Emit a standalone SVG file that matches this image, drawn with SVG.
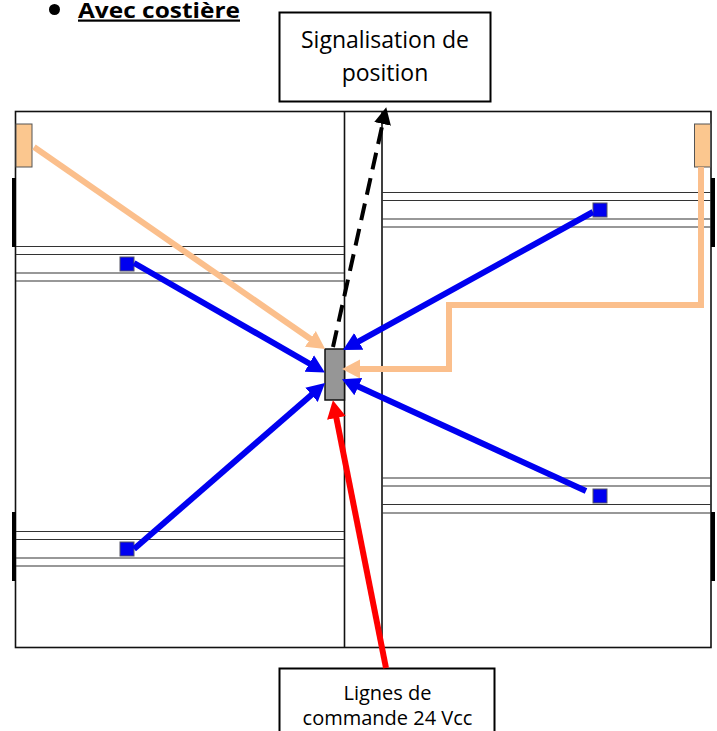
<svg xmlns="http://www.w3.org/2000/svg" width="717" height="731" viewBox="0 0 717 731">
<style>
.frame{fill:none;stroke:#111;stroke-width:1.6}
.rail{fill:none;stroke:#333;stroke-width:1.2}
.box{fill:#fff;stroke:#000;stroke-width:2}
.handle{fill:#000}
.sensor{fill:#fbc78f;stroke:#555;stroke-width:1}
.sq{fill:#0000f0;stroke:#556;stroke-width:1}
.lnk{fill:none;stroke-width:6}
.t{font-family:"Open Sans","Noto Sans",sans-serif;fill:#000;text-anchor:middle}
</style>
<defs>
<marker id="hb" markerUnits="userSpaceOnUse" markerWidth="22" markerHeight="24" refX="2" refY="11" orient="auto"><path d="M0,1.500 L18,11 L0,20.500Z" fill="#0000f0"/></marker>
<marker id="ho" markerUnits="userSpaceOnUse" markerWidth="22" markerHeight="24" refX="2" refY="11" orient="auto"><path d="M0,1.500 L18,11 L0,20.500Z" fill="#fbbf8c"/></marker>
<marker id="hr" markerUnits="userSpaceOnUse" markerWidth="22" markerHeight="24" refX="2" refY="11" orient="auto"><path d="M0,1.500 L18,11 L0,20.500Z" fill="#f00"/></marker>
<marker id="hk" markerUnits="userSpaceOnUse" markerWidth="22" markerHeight="24" refX="2" refY="11" orient="auto"><path d="M0,2.500 L17,11 L0,19.500Z" fill="#000"/></marker>
</defs>
<g id="title">
<circle cx="54.500" cy="9.500" r="5.500" fill="#000"/>
<text x="78" y="17.500" font-family="Open Sans,Noto Sans,sans-serif" font-size="22" font-weight="700" text-decoration="underline" textLength="162" lengthAdjust="spacingAndGlyphs">Avec costière</text>
</g>
<g id="doors">
<rect class="frame" x="15.500" y="111.500" width="695.500" height="536"/>
<path class="frame" d="M344.500 111.500V647.500M382 111.500V647.500"/>
<path class="rail" d="M16 246.500H344M16 254.500H344M16 273H344M16 281H344M16 531.500H344M16 539.500H344M16 558H344M16 566H344M382 192.500H711M382 200.500H711M382 219H711M382 227H711M382 478H711M382 486H711M382 504.500H711M382 513H711"/>
</g>
<g id="handles">
<rect class="handle" x="12" y="178" width="4" height="69"/>
<rect class="handle" x="12" y="512" width="4" height="69"/>
<rect class="handle" x="711" y="178" width="4" height="69"/>
<rect class="handle" x="711" y="512" width="4" height="69"/>
</g>
<g id="sensor-left"><rect class="sensor" x="16" y="124" width="16" height="43"/></g>
<g id="sensor-right"><rect class="sensor" x="694.500" y="124" width="16" height="43"/></g>
<g id="square-1"><rect class="sq" x="120" y="257" width="14" height="14"/></g>
<g id="square-2"><rect class="sq" x="120" y="542" width="14" height="14"/></g>
<g id="square-3"><rect class="sq" x="593" y="203" width="14" height="14"/></g>
<g id="square-4"><rect class="sq" x="593" y="489" width="14" height="14"/></g>
<g id="module"><rect x="325" y="349" width="19.500" height="51" fill="#969696" stroke="#111" stroke-width="1.500"/></g>
<g id="box-signal">
<rect class="box" x="279.500" y="12.500" width="211" height="89"/>
<text class="t" x="385" y="47.500" font-size="23">Signalisation de</text>
<text class="t" x="385" y="81" font-size="23">position</text>
</g>
<g id="box-command">
<rect class="box" x="279.500" y="668.500" width="215" height="70"/>
<text class="t" x="387.500" y="700" font-size="20">Lignes de</text>
<text class="t" x="387.500" y="724.500" font-size="20">commande 24 Vcc</text>
</g>
<g id="connectors">
<path class="lnk" stroke="#fbbf8c" d="M34 147L312 340" marker-end="url(#ho)"/>
<path class="lnk" stroke="#fbbf8c" d="M701 167V305H449V369H358" marker-end="url(#ho)"/>
<path class="lnk" stroke="#0000f0" d="M134 263L311 364.500" marker-end="url(#hb)"/>
<path class="lnk" stroke="#0000f0" d="M134 549L313 393.500" marker-end="url(#hb)"/>
<path class="lnk" stroke="#0000f0" d="M593 212L357 342.300" marker-end="url(#hb)"/>
<path class="lnk" stroke="#0000f0" d="M586 491L356.500 385.800" marker-end="url(#hb)"/>
<path class="lnk" stroke="#f00" d="M386 668L336 416" marker-end="url(#hr)"/>
<path fill="none" stroke="#000" stroke-width="4" stroke-dasharray="17 9" d="M333 347L383 122" marker-end="url(#hk)"/>
</g>
</svg>
